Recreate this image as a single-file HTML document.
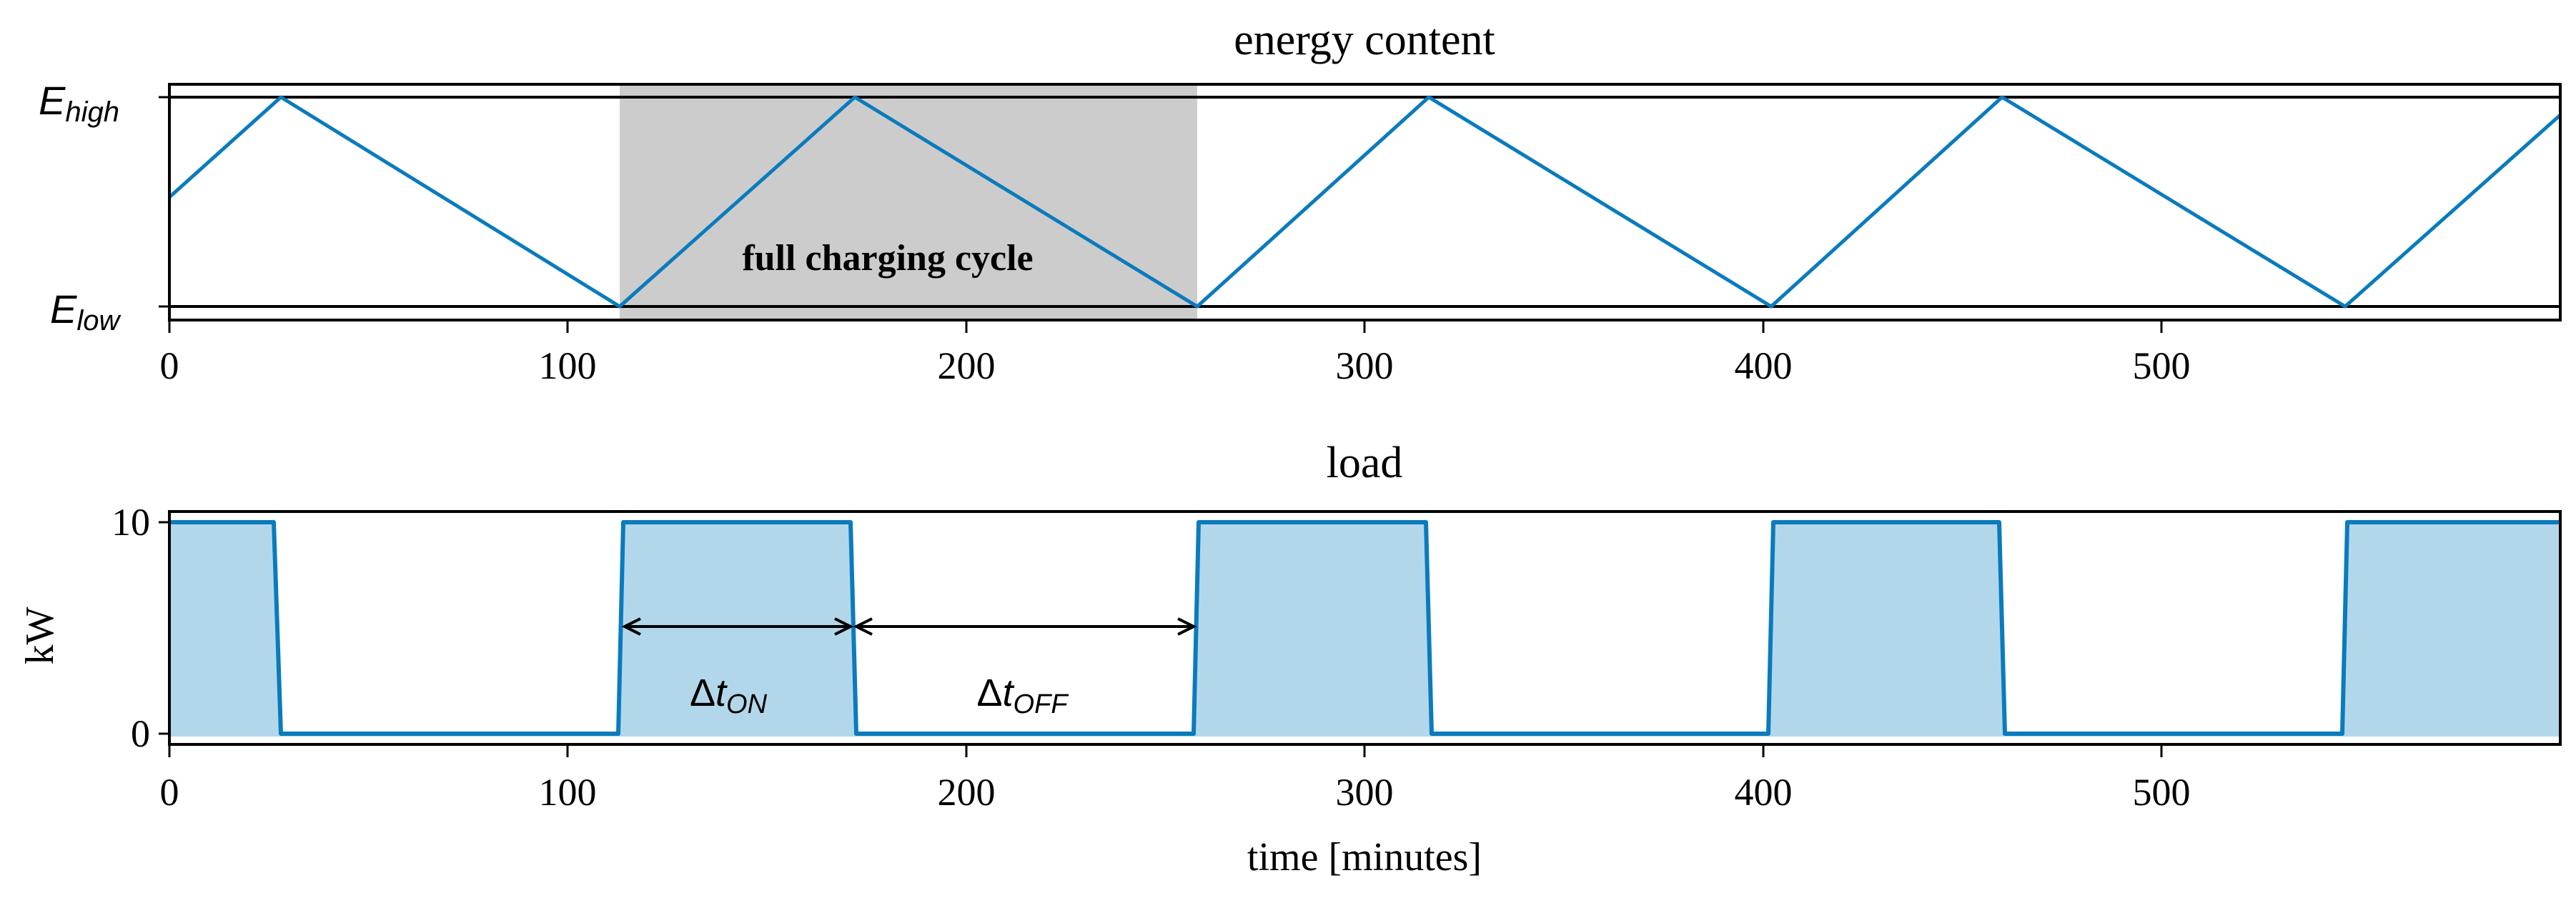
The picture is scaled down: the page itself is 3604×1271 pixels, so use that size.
<!DOCTYPE html>
<html><head><meta charset="utf-8"><style>html,body{margin:0;padding:0;background:#fff}svg{display:block}</style></head>
<body>
<svg width="3604" height="1271" viewBox="0 0 3604 1271" xmlns="http://www.w3.org/2000/svg" font-family="Liberation Serif, serif">
<defs>
<marker id="ah" markerWidth="30" markerHeight="30" refX="26" refY="15" orient="auto-start-reverse" markerUnits="userSpaceOnUse">
<path d="M4,4 L26,15 L4,26" fill="none" stroke="#000" stroke-width="4"/>
</marker>
</defs>
<!-- top panel -->
<text x="1909" y="76" font-size="62" text-anchor="middle">energy content</text>
<rect x="867" y="118" width="808" height="330" fill="#cccccc"/>
<line x1="237" y1="136" x2="3582" y2="136" stroke="#000" stroke-width="4"/>
<line x1="237" y1="429" x2="3582" y2="429" stroke="#000" stroke-width="4"/>
<polyline points="237,276 393,136 867,429 1196,136 1675,429 1999,136 2478,429 2801,136 3281,429 3582,161" fill="none" stroke="#0a7bbd" stroke-width="5" stroke-linejoin="round"/>
<rect x="237" y="118" width="3345" height="330" fill="none" stroke="#000" stroke-width="4"/>
<line x1="222" y1="136" x2="237" y2="136" stroke="#000" stroke-width="3"/>
<line x1="222" y1="429" x2="237" y2="429" stroke="#000" stroke-width="3"/>
<text x="1242" y="378" font-size="52" font-weight="bold" text-anchor="middle">full charging cycle</text>
<text x="54" y="160" font-size="56" font-style="italic" font-family="Liberation Sans, sans-serif">E<tspan font-size="40" dy="10">high</tspan></text>
<text x="70" y="452" font-size="56" font-style="italic" font-family="Liberation Sans, sans-serif">E<tspan font-size="40" dy="10">low</tspan></text>
<g stroke="#000" stroke-width="3">
<line x1="237" y1="448" x2="237" y2="466"/><line x1="794" y1="448" x2="794" y2="466"/><line x1="1352" y1="448" x2="1352" y2="466"/><line x1="1909" y1="448" x2="1909" y2="466"/><line x1="2467" y1="448" x2="2467" y2="466"/><line x1="3024" y1="448" x2="3024" y2="466"/>
</g>
<g font-size="54" text-anchor="middle">
<text x="237" y="530">0</text><text x="794" y="530">100</text><text x="1352" y="530">200</text><text x="1909" y="530">300</text><text x="2467" y="530">400</text><text x="3024" y="530">500</text>
</g>
<!-- bottom panel -->
<text x="1909" y="668" font-size="62" text-anchor="middle">load</text>
<polygon points="237,1031 237,731 383,731 393,1027 865,1027 872,731 1190,731 1198,1027 1670,1027 1677,731 1995,731 2003,1027 2474,1027 2481,731 2797,731 2805,1027 3277,1027 3284,731 3582,731 3582,1031" fill="#b3d7ea"/>
<polyline points="237,731 383,731 393,1027 865,1027 872,731 1190,731 1198,1027 1670,1027 1677,731 1995,731 2003,1027 2474,1027 2481,731 2797,731 2805,1027 3277,1027 3284,731 3582,731" fill="none" stroke="#0a7bbd" stroke-width="6" stroke-linejoin="round"/>
<rect x="237" y="716" width="3345" height="326" fill="none" stroke="#000" stroke-width="4"/>
<line x1="222" y1="731" x2="237" y2="731" stroke="#000" stroke-width="3"/>
<line x1="222" y1="1027" x2="237" y2="1027" stroke="#000" stroke-width="3"/>
<g font-size="54" text-anchor="end"><text x="210" y="749">10</text><text x="210" y="1045">0</text></g>
<text x="0" y="0" font-size="56" text-anchor="middle" transform="translate(74,890) rotate(-90)">kW</text>
<line x1="874" y1="877" x2="1190" y2="877" stroke="#000" stroke-width="4" marker-start="url(#ah)" marker-end="url(#ah)"/>
<line x1="1198" y1="877" x2="1670" y2="877" stroke="#000" stroke-width="4" marker-start="url(#ah)" marker-end="url(#ah)"/>
<text x="1019" y="988" font-size="54" text-anchor="middle" font-family="Liberation Sans, sans-serif">Δ<tspan font-style="italic">t</tspan><tspan font-style="italic" font-size="38" dy="10">ON</tspan></text>
<text x="1430" y="988" font-size="54" text-anchor="middle" font-family="Liberation Sans, sans-serif">Δ<tspan font-style="italic">t</tspan><tspan font-style="italic" font-size="38" dy="10">OFF</tspan></text>
<g stroke="#000" stroke-width="3">
<line x1="237" y1="1042" x2="237" y2="1060"/><line x1="794" y1="1042" x2="794" y2="1060"/><line x1="1352" y1="1042" x2="1352" y2="1060"/><line x1="1909" y1="1042" x2="1909" y2="1060"/><line x1="2467" y1="1042" x2="2467" y2="1060"/><line x1="3024" y1="1042" x2="3024" y2="1060"/>
</g>
<g font-size="54" text-anchor="middle">
<text x="237" y="1127">0</text><text x="794" y="1127">100</text><text x="1352" y="1127">200</text><text x="1909" y="1127">300</text><text x="2467" y="1127">400</text><text x="3024" y="1127">500</text>
</g>
<text x="1909" y="1218" font-size="56" text-anchor="middle">time [minutes]</text>
</svg>
</body></html>
